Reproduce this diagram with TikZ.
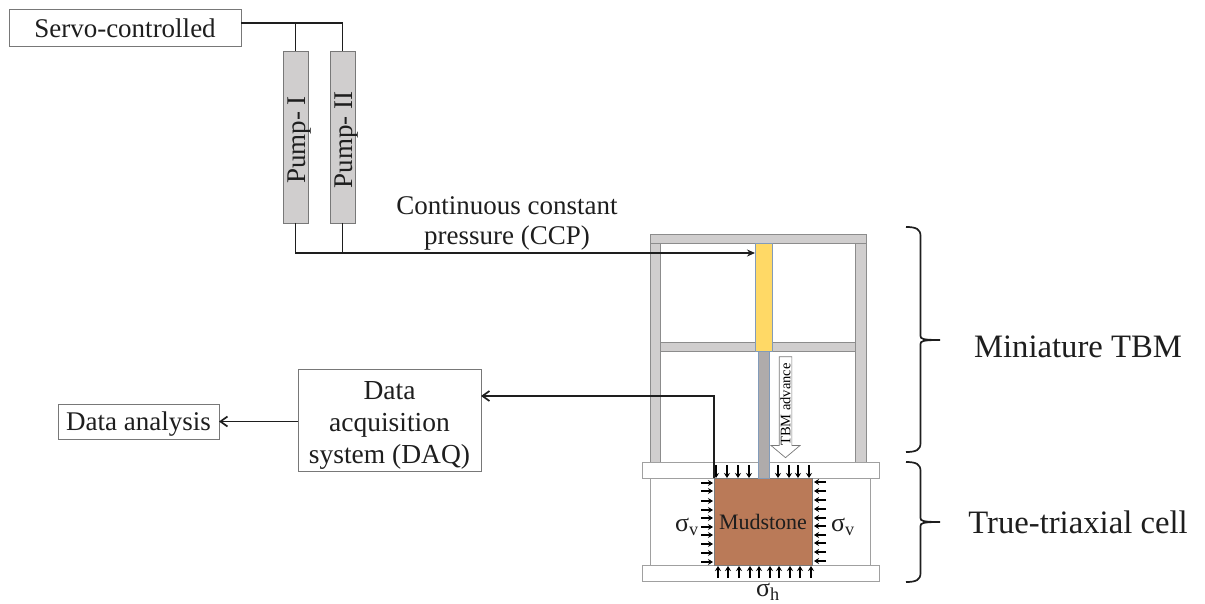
\documentclass[tikz,border=0pt]{standalone}
\usepackage{fontspec}
\setmainfont{Liberation Serif}
\usetikzlibrary{arrows.meta, shapes.arrows}
\definecolor{tbmgray}{RGB}{208,206,206}
\definecolor{tbmedge}{RGB}{140,140,140}
\definecolor{rodgray}{RGB}{175,171,171}
\definecolor{rodedge}{RGB}{130,155,185}
\definecolor{tbmyellow}{RGB}{255,217,102}
\definecolor{mudbrown}{RGB}{186,122,88}
\definecolor{boxedge}{RGB}{120,120,120}
\definecolor{inkblack}{RGB}{30,30,30}

\begin{document}
\begin{tikzpicture}[
    x=1pt, y=-1pt,
    textbox/.style={rectangle, draw=boxedge, fill=white, line width=0.8pt, align=center, inner sep=0pt, outer sep=0pt, font=\fontsize{27}{34}\selectfont, text=inkblack},
    pumpbar/.style={rectangle, draw=boxedge, fill=tbmgray, line width=0.8pt, minimum width=25pt, minimum height=172pt, inner sep=0pt, outer sep=0pt, font=\fontsize{27}{30}\selectfont, text=inkblack},
    beam/.style={rectangle, draw=tbmedge, fill=tbmgray, line width=0.8pt, inner sep=0pt, outer sep=0pt},
    plate/.style={rectangle, draw=boxedge!70, fill=white, line width=0.8pt, minimum width=237pt, minimum height=16pt, inner sep=0pt, outer sep=0pt},
    wire/.style={line width=1.7pt, inkblack},
    arrow/.style={-{Stealth[length=8pt, width=7pt]}, line width=1.7pt, inkblack},
    openarrow/.style={-{Straight Barb[length=7pt, width=10pt]}, line width=1.7pt, inkblack},
    stress/.style={-{Stealth[length=5pt, width=6pt]}, line width=1.1pt, black},
    caption/.style={align=center, inner sep=0pt, font=\fontsize{27}{30}\selectfont, text=inkblack},
    sigmalabel/.style={inner sep=0pt, font=\fontsize{26}{30}\selectfont, text=inkblack},
    biglabel/.style={inner sep=0pt, font=\fontsize{32.7}{38}\selectfont, text=inkblack}
]
\useasboundingbox (0,0) rectangle (1205,604);

% === Pump line ===
\node[textbox, minimum width=232pt, minimum height=37pt] (servo) at (125,27.5) {\rule{0pt}{21pt}Servo-controlled};
\node[pumpbar] (pumpone) at (295.5,137) {\makebox[0pt]{\hspace{8pt}\rotatebox{90}{Pump- I\hspace{6pt}}}};
\node[pumpbar] (pumptwo) at (342.5,137) {\makebox[0pt]{\hspace{8pt}\rotatebox{90}{Pump- II\hspace{6pt}}}};
\node[caption] (ccp) at (507,223) {Continuous constant\\pressure (CCP)};

% === Miniature TBM frame ===
\node[beam, minimum width=10pt, minimum height=220pt] (colleft) at (655,352) {};
\node[beam, minimum width=11pt, minimum height=220pt] (colright) at (860.5,352) {};
\node[beam, minimum width=216pt, minimum height=9pt] (topbeam) at (758,238.5) {};
\node[beam, minimum width=195pt, minimum height=9pt] (midbeam) at (757.5,346.5) {};
\node[rectangle, draw=rodedge, fill=tbmyellow, minimum width=17pt, minimum height=108pt, inner sep=0pt, outer sep=0pt] (piston) at (763.5,297) {};

% === True-triaxial cell ===
\draw[boxedge!70, line width=0.8pt] (650,478) -- (650,565) (870,478) -- (870,565);
\node[plate] (upperplate) at (760.5,470) {};
\node[plate] (lowerplate) at (760.5,573) {};
\node[rectangle, draw=boxedge, fill=mudbrown, minimum width=98pt, minimum height=87pt, inner sep=0pt, outer sep=0pt, font=\fontsize{22}{26}\selectfont, text=inkblack] (mudstone) at (763,521.5) {Mudstone};
\node[rectangle, draw=rodedge, fill=rodgray, minimum width=11pt, minimum height=127pt, inner sep=0pt, outer sep=0pt] (rod) at (763.5,414.5) {};
\node[single arrow, draw=boxedge, fill=white, line width=0.7pt, rotate=90, shape border rotate=180, minimum width=29pt, minimum height=101pt, single arrow head extend=7pt, single arrow tip angle=100, inner sep=0pt, font=\fontsize{14.5}{16}\selectfont] (advance) at (785.5,404.5) {TBM advance\hspace{7pt}};

% === Stress arrows ===
\foreach \px in {716,727,738,749,778,789,798,809}{
    \draw[stress] (\px,465) -- (\px,478);
}
\foreach \px in {718,728,739,750,759,770,779,790,800,811}{
    \draw[stress] (\px,578) -- (\px,566);
}
\foreach \py in {483,491,501,510,518,527,535,544,553,562}{
    \draw[stress] (701,\py) -- (713,\py);
}
\foreach \py in {482,491,500,509,518,526,535,543,552,561}{
    \draw[stress] (826,\py) -- (814,\py);
}
\node[sigmalabel] (sigmaleft) at (687,527) {σ\textsubscript{v}};
\node[sigmalabel] (sigmaright) at (843,527) {σ\textsubscript{v}};
\node[sigmalabel] (sigmabottom) at (768,592) {σ\textsubscript{h}};

% === Data acquisition ===
\node[textbox, minimum width=183pt, minimum height=102pt, font=\fontsize{27.5}{32}\selectfont] (daq) at (389.5,420) {\rule{0pt}{28pt}Data\\acquisition\\system (DAQ)};
\node[textbox, minimum width=161pt, minimum height=35pt] (analysis) at (138.5,421.5) {\rule{0pt}{24pt}Data analysis};

% === Labels ===
\node[biglabel] (tbmlabel) at (1078,347) {Miniature TBM};
\node[biglabel] (celllabel) at (1078,522) {True-triaxial cell};
\foreach \btop/\bmid/\bbot in {227/340/452, 462/522/582}{
    \draw[wire] (906,\btop) .. controls (916,\btop) and (920.5,\btop+2) .. (920.5,\btop+9)
        -- (920.5,\bmid-4) .. controls (920.5,\bmid-1) and (923,\bmid) .. (940,\bmid)
        .. controls (923,\bmid) and (920.5,\bmid+1) .. (920.5,\bmid+4)
        -- (920.5,\bbot-9) .. controls (920.5,\bbot-2) and (916,\bbot) .. (906,\bbot);
}

% === Arrows ===
\coordinate (servotap) at (241,23);
\coordinate (ccptip) at (755,253);
\coordinate (daqtip) at (481,396);
\draw[wire] (servotap) -| (pumpone.north);
\draw[wire] (servotap) -| (pumptwo.north);
\draw[arrow] (pumpone.south) |- (ccptip);
\draw[wire] (pumptwo.south) -- (pumptwo.south |- ccptip);
\draw[openarrow] (mudstone.north west) |- (daqtip);
\draw[openarrow] (daq.west |- analysis) -- (analysis.east);

\end{tikzpicture}
\end{document}
